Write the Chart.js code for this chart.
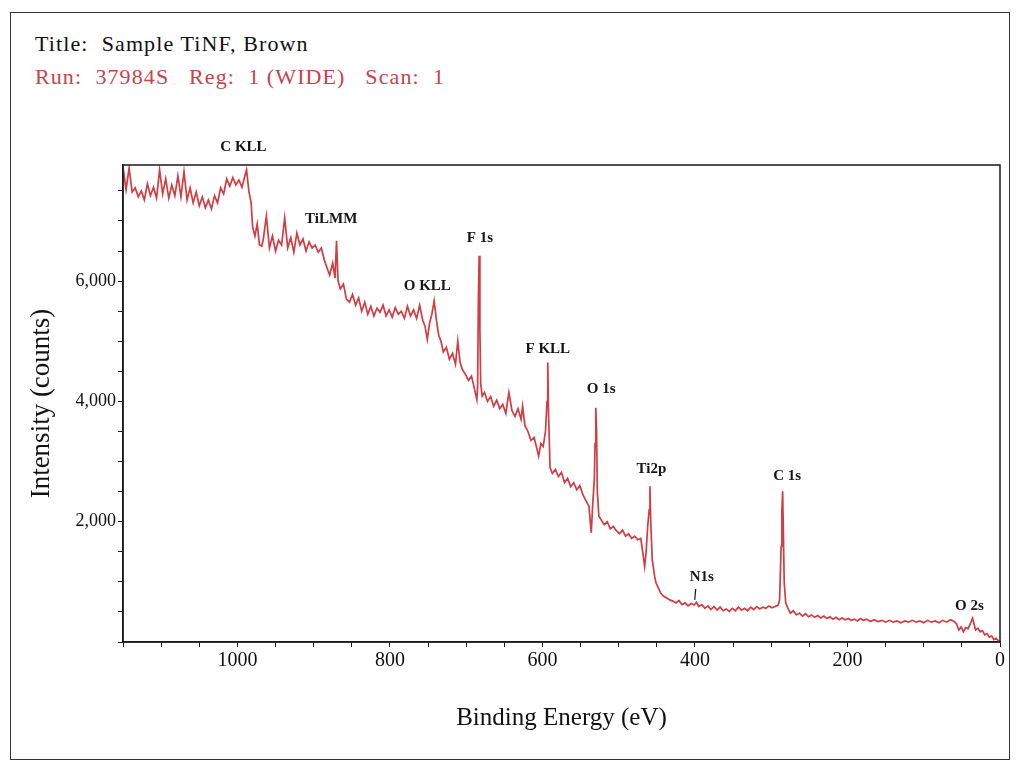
<!DOCTYPE html>
<html>
<head>
<meta charset="utf-8">
<script src="https://cdn.jsdelivr.net/npm/chart.js@4.4.1/dist/chart.umd.min.js"></script>
<style>
  html, body { margin: 0; padding: 0; background: #fff; }
  #wrap { position: relative; width: 1020px; height: 771px; overflow: hidden; }
  #frame { position: absolute; left: 10px; top: 12px; width: 1000px; height: 748px; border: 1.5px solid #333; box-sizing: border-box; }
  .hdr { position: absolute; left: 35px; font-family: 'Liberation Serif', serif; font-size: 22px; letter-spacing: 1.1px; white-space: pre; }
  #t1 { top: 31px; color: #111; }
  #t2 { top: 64px; color: #c8424c; }
  #box { position: absolute; left: 0; top: 0; width: 1020px; height: 771px; }
</style>
</head>
<body>
<div id="wrap">
  <div id="frame"></div>
  <div class="hdr" id="t1">Title:  Sample TiNF, Brown</div>
  <div class="hdr" id="t2">Run:  37984S   Reg:  1 (WIDE)   Scan:  1</div>
  <div id="box"><canvas id="xps"></canvas></div>
</div>
<script>
// binding energy (eV), high -> low
const energy = [
  1150, 1146, 1142, 1138, 1134, 1130, 1126, 1122, 1118, 1114, 1110, 1106, 1102, 1098, 1094, 1090,
  1086, 1082, 1078, 1074, 1070, 1066, 1062, 1058, 1054, 1050, 1046, 1042, 1038, 1034, 1030, 1026,
  1022, 1018, 1014, 1010, 1006, 1002, 998, 994, 990, 988, 985, 982, 980, 977, 974, 971, 968,
  966, 962, 958, 954, 950, 946, 942, 938, 934, 930, 926, 922, 918, 914, 910, 906, 902, 898, 894, 890,
  886, 882, 879, 875, 872, 870, 868, 865, 861, 857, 853, 849, 845, 841, 837, 833, 829, 825, 821, 817,
  813, 809, 805, 801, 797, 793, 789, 785, 781, 777, 773, 769, 765, 761, 757, 754, 751, 748, 745, 742,
  739, 736, 733, 730, 726, 722, 718, 714, 711, 708, 705, 701, 697, 693, 689, 686, 685, 684, 683, 682,
  681, 679, 676, 672, 668, 664, 660, 656, 652, 648, 644, 640, 636, 632, 628, 626, 623, 619, 615, 611,
  607, 605, 602, 599, 596, 594, 593, 592, 590, 587, 583, 579, 575, 571, 567, 563, 559, 555, 551, 547,
  543, 539, 536, 534, 532, 531, 530, 529, 528, 526, 523, 519, 515, 511, 507, 503, 499, 495, 491, 487,
  483, 479, 475, 471, 468, 466, 464, 462, 460, 459, 458, 456, 453, 451, 448, 445, 441, 437, 433, 429,
  425, 421, 417, 413, 409, 405, 401, 398, 395, 391, 387, 383, 379, 375, 371, 367, 363, 359, 355, 351,
  347, 343, 339, 335, 331, 327, 323, 319, 315, 311, 307, 303, 299, 295, 291, 289, 287, 286, 285, 284,
  283, 281, 278, 275, 271, 267, 263, 259, 255, 251, 247, 243, 239, 235, 231, 227, 223, 219, 215, 211,
  207, 203, 199, 195, 191, 187, 183, 179, 175, 170, 165, 160, 155, 150, 145, 140, 135, 130, 125, 120,
  115, 110, 105, 100, 95, 90, 85, 80, 75, 70, 65, 60, 57, 54, 51, 48, 45, 42, 39, 36,
  34, 32, 29, 26, 23, 20, 17, 14, 11, 8, 5, 2, 0
];
const counts = [
  7900, 7520, 7880, 7480, 7550, 7400, 7500, 7350, 7620, 7420, 7560, 7380, 7850, 7450, 7700, 7380,
  7600, 7420, 7750, 7400, 7820, 7350, 7550, 7300, 7480, 7250, 7400, 7220, 7350, 7200, 7420, 7300,
  7550, 7450, 7700, 7580, 7720, 7600, 7680, 7560, 7760, 7850, 7500, 7300, 6900, 6750, 6950, 6600, 6580,
  6700, 7080, 6550, 6750, 6500, 6680, 6600, 7050, 6550, 6720, 6480, 6800, 6600, 6700, 6500, 6650, 6550, 6600, 6480, 6550,
  6350, 6200, 6100, 6300, 6050, 6670, 6000, 5870, 5950, 5700, 5650, 5780, 5600, 5720, 5500, 5650, 5450, 5580, 5420, 5550,
  5480, 5600, 5420, 5520, 5400, 5560, 5450, 5500, 5380, 5580, 5420, 5520, 5380, 5600, 5350, 5250, 5030, 5300, 5450, 5670,
  5350, 5100, 5000, 4820, 4900, 4700, 4800, 4620, 5000, 4650, 4530, 4450, 4350, 4420, 4200, 4030, 4250, 5700, 6420, 5200,
  4300, 4090, 4150, 4000, 4080, 3920, 4020, 3880, 3950, 3800, 4150, 3850, 3750, 3880, 3700, 3920, 3600, 3500, 3350, 3400,
  3200, 3090, 3300, 3250, 3500, 4000, 4645, 3800, 2900, 2800, 2870, 2750, 2820, 2650, 2720, 2580, 2650, 2530, 2600, 2450,
  2350, 2255, 1815, 2300, 2700, 3300, 3895, 3500, 2500, 2090, 2030, 1950, 2000, 1880, 1920, 1850, 1800, 1860, 1760, 1800,
  1720, 1760, 1700, 1720, 1450, 1255, 1500, 1920, 2200, 2590, 2000, 1370, 1100, 980, 900, 815, 760, 730, 700, 680,
  650, 690, 620, 650, 600, 640, 615, 660, 590, 620, 560, 600, 540, 590, 530, 580, 520, 550, 510, 560,
  520, 580, 530, 560, 520, 580, 540, 590, 550, 580, 560, 600, 570, 590, 610, 700, 1590, 2200, 2505, 1800,
  1000, 650, 560, 480, 520, 450, 480, 430, 470, 420, 450, 410, 440, 400, 430, 390, 420, 380, 410, 370,
  400, 370, 390, 360, 380, 350, 390, 360, 380, 340, 370, 340, 360, 330, 360, 330, 350, 320, 350, 330,
  360, 330, 350, 320, 360, 330, 350, 320, 360, 330, 370, 340, 300, 200, 250, 170, 240, 220, 300, 395,
  300, 200, 230, 170, 190, 120, 140, 80, 100, 40, 60, 20, 5
];

// axis ticks: every 500 counts, labels on the 2000s
const yTicks = [0, 500, 1000, 1500, 2000, 2500, 3000, 3500, 4000, 4500, 5000, 5500, 6000, 6500, 7000, 7500];
const yLabelled = [2000, 4000, 6000];
const yMax = 7930;

// peak labels and where they sit (eV, counts)
const peakNames = ['C KLL', 'TiLMM', 'F 1s', 'O KLL', 'F KLL', 'O 1s', 'Ti2p', 'C 1s', 'N1s', 'O 2s'];
const peakEnergy = [992, 877, 682, 751, 593, 523, 457, 279, 391, 40];
const peakCounts = [8220, 7030, 6720, 5920, 4870, 4200, 2870, 2760, 1080, 600];
// little marker line under N1s
const n1sMark = { energy: 399, from: 700, to: 880 };

function withComma(v) {
  return String(v).replace(/\B(?=(\d{3})+(?!\d))/g, ',');
}

const peakLabels = {
  id: 'peakLabels',
  afterDatasetsDraw(chart) {
    const { ctx, scales: { x, y } } = chart;
    ctx.save();
    ctx.fillStyle = '#151515';
    ctx.font = 'bold 15px "Liberation Serif"';
    ctx.textAlign = 'center';
    ctx.textBaseline = 'middle';
    peakNames.forEach((name, i) => {
      ctx.fillText(name, x.getPixelForValue(peakEnergy[i]), y.getPixelForValue(peakCounts[i]));
    });
    ctx.strokeStyle = '#151515';
    ctx.lineWidth = 1.2;
    ctx.beginPath();
    ctx.moveTo(x.getPixelForValue(n1sMark.energy), y.getPixelForValue(n1sMark.to));
    ctx.lineTo(x.getPixelForValue(n1sMark.energy) - 1, y.getPixelForValue(n1sMark.from));
    ctx.stroke();
    ctx.restore();
  }
};

// closed box around the plot area
const plotFrame = {
  id: 'plotFrame',
  afterDraw(chart) {
    const { ctx, chartArea: a } = chart;
    ctx.save();
    ctx.strokeStyle = '#1a1a1a';
    ctx.lineWidth = 1.5;
    ctx.strokeRect(a.left, a.top, a.right - a.left, a.bottom - a.top);
    ctx.restore();
  }
};

const serif = 'Liberation Serif';

new Chart(document.getElementById('xps'), {
  type: 'line',
  data: {
    datasets: [{
      data: energy.map((e, i) => ({ x: e, y: counts[i] })),
      borderColor: '#d23c42',
      borderWidth: 1.7,
      pointRadius: 0,
      tension: 0
    }]
  },
  options: {
    responsive: true,
    maintainAspectRatio: false,
    animation: false,
    devicePixelRatio: 1,
    layout: { padding: { left: 0, top: 165, right: 20, bottom: 0 } },
    plugins: { legend: { display: false }, tooltip: { enabled: false } },
    scales: {
      x: {
        type: 'linear',
        reverse: true,
        min: 0,
        max: 1150,
        afterFit: s => { s.height = 129; },
        ticks: {
          stepSize: 50,
          autoSkip: false,
          maxRotation: 0,
          padding: 2,
          color: '#111',
          font: { family: serif, size: 20 },
          callback: v => (v % 200 === 0 ? String(v) : '')
        },
        grid: { drawOnChartArea: false, tickLength: 5, color: '#1a1a1a' },
        border: { color: '#1a1a1a', width: 1.5 },
        title: {
          display: true,
          text: 'Binding Energy (eV)',
          color: '#111',
          font: { family: serif, size: 25 },
          padding: { top: 0, bottom: 38 }
        }
      },
      y: {
        min: 0,
        max: yMax,
        afterFit: s => { s.width = 123; },
        afterBuildTicks: s => { s.ticks = yTicks.map(v => ({ value: v })); },
        ticks: {
          autoSkip: false,
          padding: 2,
          color: '#111',
          font: { family: serif, size: 18 },
          callback: v => (yLabelled.includes(v) ? withComma(v) : '')
        },
        grid: { drawOnChartArea: false, tickLength: 5, color: '#1a1a1a' },
        border: { color: '#1a1a1a', width: 1.5 },
        title: {
          display: true,
          text: 'Intensity (counts)',
          color: '#111',
          font: { family: serif, size: 27 },
          padding: { top: 26, bottom: 0 }
        }
      }
    }
  },
  plugins: [peakLabels, plotFrame]
});
</script>
</body>
</html>
